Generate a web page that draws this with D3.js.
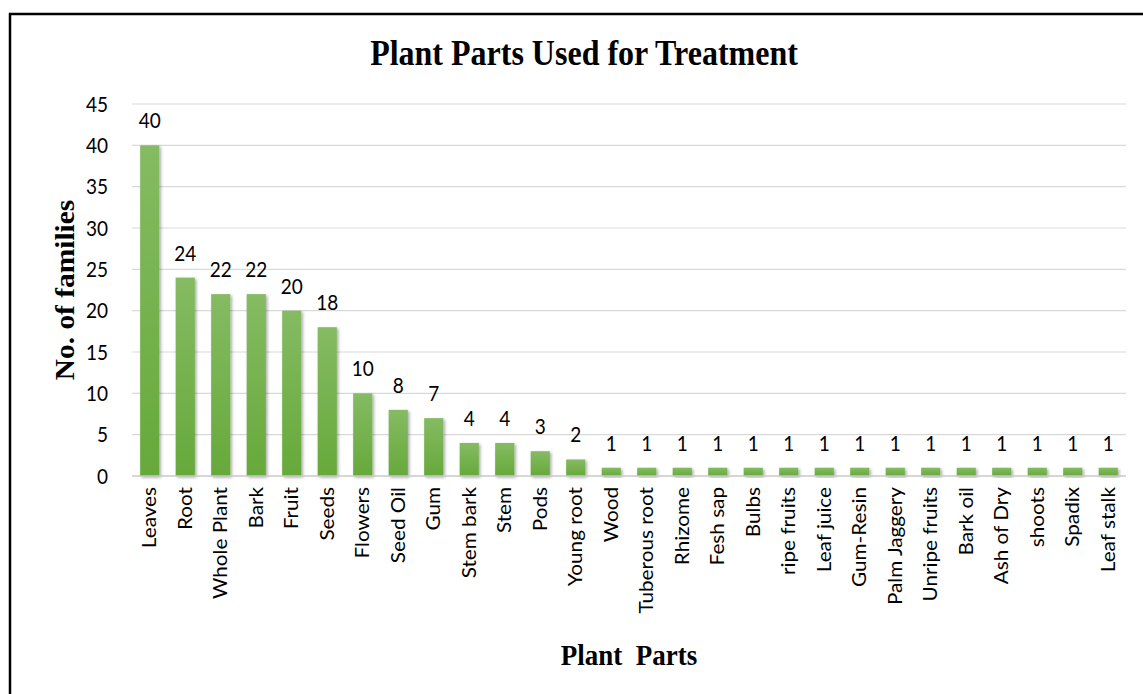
<!DOCTYPE html>
<html>
<head>
<meta charset="utf-8">
<script src="https://cdn.jsdelivr.net/npm/d3@7"></script>
<style>
  html, body { margin: 0; padding: 0; background: #ffffff; }
  svg { display: block; }
</style>
</head>
<body>
<svg id="chart" width="1143" height="694"></svg>
<script>
const categories = ["Leaves","Root","Whole Plant","Bark","Fruit","Seeds","Flowers","Seed Oil","Gum","Stem bark","Stem","Pods","Young root","Wood","Tuberous root","Rhizome","Fesh sap","Bulbs","ripe fruits","Leaf juice","Gum-Resin","Palm Jaggery","Unripe fruits","Bark oil","Ash of Dry","shoots","Spadix","Leaf stalk"];
const values = [40,24,22,22,20,18,10,8,7,4,4,3,2,1,1,1,1,1,1,1,1,1,1,1,1,1,1,1];
const yTicks = [0,5,10,15,20,25,30,35,40,45];
const titleText = "Plant Parts Used for Treatment";
const xTitle = "Plant\u00a0\u00a0Parts";
const yTitle = "No. of families";

const svg = d3.select("#chart");
const W = 1143, H = 694;
const SY = 1.09; // vertical stretch of glyphs in the reference
const sans = "Lato, 'Open Sans', sans-serif";
const serif = "'Liberation Serif', 'Times New Roman', serif";
const m = {left: 132, right: 17, top: 104, bottom: 218};
const plotW = W - m.left - m.right;
const plotH = H - m.top - m.bottom;

const defs = svg.append("defs");
const grad = defs.append("linearGradient").attr("id","barGrad").attr("x1",0).attr("y1",0).attr("x2",0).attr("y2",1);
grad.append("stop").attr("offset","0%").attr("stop-color","#85bb63");
grad.append("stop").attr("offset","100%").attr("stop-color","#66a93a");
const f = defs.append("filter").attr("id","shadow").attr("x","-30%").attr("y","-10%").attr("width","160%").attr("height","130%");
f.append("feDropShadow").attr("dx",1.5).attr("dy",1.5).attr("stdDeviation",1.5).attr("flood-color","#000").attr("flood-opacity",0.35);

// border (left and top only visible)
svg.append("path").attr("d", `M10,${H+5} L10,14 L${W+5},14`).attr("fill","none").attr("stroke","#000").attr("stroke-width",2.5);

const x = d3.scaleBand().domain(categories).range([m.left, m.left + plotW]).paddingInner(0.46).paddingOuter(0.23);
const y = d3.scaleLinear().domain([0,45]).range([m.top + plotH, m.top]);

// gridlines
svg.append("g").selectAll("line").data(yTicks.filter(d => d > 0)).join("line")
  .attr("x1", m.left).attr("x2", m.left + plotW)
  .attr("y1", d => y(d)).attr("y2", d => y(d))
  .attr("stroke","#d9d9d9").attr("stroke-width",1.2);

// y axis
const yAxis = d3.axisLeft(y).tickValues(yTicks).tickSize(0).tickPadding(0);
const gy = svg.append("g").attr("transform", `translate(${m.left - 24},0)`).call(yAxis);
gy.select(".domain").remove();
gy.selectAll(".tick text")
  .attr("font-family", sans).attr("font-size","19px").attr("fill","#000")
  .attr("x", 0).attr("y", 0).attr("dy", "0.35em")
  .attr("transform", `scale(1,${SY})`);

// bars
svg.append("g").selectAll("rect").data(values).join("rect")
  .attr("x", (d,i) => x(categories[i]))
  .attr("y", d => y(d))
  .attr("width", x.bandwidth())
  .attr("height", d => y(0) - y(d))
  .attr("fill","url(#barGrad)")
  .attr("filter","url(#shadow)");

// baseline
svg.append("line").attr("x1", m.left).attr("x2", m.left + plotW)
  .attr("y1", y(0)).attr("y2", y(0)).attr("stroke","#c8c8c8").attr("stroke-width",1.5);

// data labels
svg.append("g").selectAll("text").data(values).join("text")
  .attr("transform", (d,i) => `translate(${x(categories[i]) + x.bandwidth()/2},${y(d) - 17}) scale(1,${SY})`)
  .attr("text-anchor","middle")
  .attr("font-family", sans).attr("font-size","19px").attr("fill","#000")
  .text(d => d);

// x axis labels
const xAxis = d3.axisBottom(x).tickSize(0).tickPadding(0);
const gx = svg.append("g").attr("transform", `translate(0,${y(0)})`).call(xAxis);
gx.select(".domain").remove();
gx.selectAll(".tick text")
  .attr("font-family", sans).attr("font-size","19px").attr("fill","#000")
  .attr("transform", `translate(0,11) scale(1,${SY}) rotate(-90)`)
  .attr("text-anchor","end")
  .attr("x", 0).attr("y", 0).attr("dy","0.35em");

// title
svg.append("text").attr("transform", `translate(584,65) scale(1,${SY})`).attr("text-anchor","middle")
  .attr("font-family", serif).attr("font-weight","bold").attr("font-size","32px")
  .text(titleText);

svg.append("text").attr("transform", `translate(629,665) scale(1,${SY})`).attr("text-anchor","middle")
  .attr("font-family", serif).attr("font-weight","bold").attr("font-size","27px")
  .text(xTitle);

svg.append("text").attr("transform", `translate(74,290) scale(1,${SY}) rotate(-90)`).attr("text-anchor","middle")
  .attr("font-family", serif).attr("font-weight","bold").attr("font-size","27px")
  .text(yTitle);
</script>
</body>
</html>
